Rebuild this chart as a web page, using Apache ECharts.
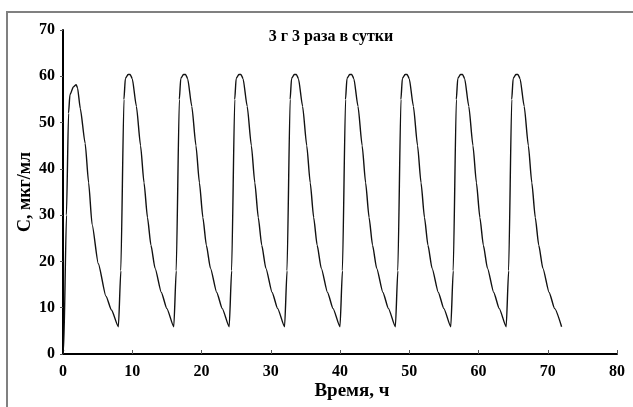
<!DOCTYPE html>
<html>
<head>
<meta charset="utf-8">
<script src="https://cdn.jsdelivr.net/npm/echarts@6/dist/echarts.min.js"></script>
<style>
  html, body { margin: 0; padding: 0; background: #fff; }
  #chart { width: 633px; height: 407px; }
</style>
</head>
<body>
<div id="chart"></div>
<script>
// время, ч
const hours = [
  0, 0.1, 0.5, 0.8, 1.0, 1.5, 1.9, 2.1, 2.5, 3.2, 3.7, 4.2, 5.1, 6.2, 7.0,
  8, 8.35, 8.8, 9.0, 9.4, 9.7, 10.0, 10.6, 11.2, 11.7, 12.2, 12.7, 13.3, 14.2, 15.0,
  16, 16.35, 16.8, 17.0, 17.4, 17.7, 18.0, 18.6, 19.2, 19.7, 20.2, 20.7, 21.3, 22.2, 23.0,
  24, 24.35, 24.8, 25.0, 25.4, 25.7, 26.0, 26.6, 27.2, 27.7, 28.2, 28.7, 29.3, 30.2, 31.0,
  32, 32.35, 32.8, 33.0, 33.4, 33.7, 34.0, 34.6, 35.2, 35.7, 36.2, 36.7, 37.3, 38.2, 39.0,
  40, 40.35, 40.8, 41.0, 41.4, 41.7, 42.0, 42.6, 43.2, 43.7, 44.2, 44.7, 45.3, 46.2, 47.0,
  48, 48.35, 48.8, 49.0, 49.4, 49.7, 50.0, 50.6, 51.2, 51.7, 52.2, 52.7, 53.3, 54.2, 55.0,
  56, 56.35, 56.8, 57.0, 57.4, 57.7, 58.0, 58.6, 59.2, 59.7, 60.2, 60.7, 61.3, 62.2, 63.0,
  64, 64.35, 64.8, 65.0, 65.4, 65.7, 66.0, 66.6, 67.2, 67.7, 68.2, 68.7, 69.3, 70.2, 71.0,
  72
]
// C, мкг/мл
const conc = [
  0, 1, 30, 52, 56, 57.7, 58.2, 57.5, 53, 45.5, 37, 28, 19.5, 12.5, 9.5,
  5.9, 18, 55, 59.5, 60.4, 60.4, 59.5, 53.5, 45, 37, 29.5, 23.5, 18.5, 13.3, 9.8,
  5.9, 18, 55, 59.5, 60.4, 60.4, 59.5, 53.5, 45, 37, 29.5, 23.5, 18.5, 13.3, 9.8,
  5.9, 18, 55, 59.5, 60.4, 60.4, 59.5, 53.5, 45, 37, 29.5, 23.5, 18.5, 13.3, 9.8,
  5.9, 18, 55, 59.5, 60.4, 60.4, 59.5, 53.5, 45, 37, 29.5, 23.5, 18.5, 13.3, 9.8,
  5.9, 18, 55, 59.5, 60.4, 60.4, 59.5, 53.5, 45, 37, 29.5, 23.5, 18.5, 13.3, 9.8,
  5.9, 18, 55, 59.5, 60.4, 60.4, 59.5, 53.5, 45, 37, 29.5, 23.5, 18.5, 13.3, 9.8,
  5.9, 18, 55, 59.5, 60.4, 60.4, 59.5, 53.5, 45, 37, 29.5, 23.5, 18.5, 13.3, 9.8,
  5.9, 18, 55, 59.5, 60.4, 60.4, 59.5, 53.5, 45, 37, 29.5, 23.5, 18.5, 13.3, 9.8,
  5.9
]

const chartTitle = '3 г 3 раза в сутки'
const xName = 'Время, ч'
const yName = 'C, мкг/мл'

const font = 'Liberation Serif'
const chart = echarts.init(document.getElementById('chart'))

const seriesData = hours.map((h, i) => [h, conc[i]])

chart.setOption({
  animation: false,
  backgroundColor: '#fff',
  graphic: [
    {
      type: 'rect',
      shape: { x: 7, y: 12, width: 800, height: 800 },
      style: { fill: 'none', stroke: '#808080', lineWidth: 2 },
      silent: true
    },
    {
      type: 'text',
      style: {
        x: 352,
        y: 391,
        text: xName,
        align: 'center',
        verticalAlign: 'middle',
        font: 'bold 19px "' + font + '"',
        fill: '#000'
      },
      silent: true
    }
  ],
  title: {
    text: chartTitle,
    left: 326,
    top: 24,
    textAlign: 'center',
    textStyle: { fontFamily: font, fontWeight: 'bold', fontSize: 16, color: '#000' }
  },
  grid: {
    left: 63,
    right: 16,
    top: 30,
    bottom: 53
  },
  xAxis: {
    type: 'value',
    min: 0,
    max: 80,
    interval: 10,
    axisLine: { show: true, lineStyle: { color: '#000', width: 2 } },
    axisTick: { show: true, inside: true, length: 4, lineStyle: { color: '#555' } },
    splitLine: { show: false },
    axisLabel: { color: '#000', fontFamily: font, fontWeight: 'bold', fontSize: 16, margin: 10 }
  },
  yAxis: {
    type: 'value',
    min: 0,
    max: 70,
    interval: 10,
    name: yName,
    nameLocation: 'middle',
    nameGap: 29,
    nameMoveOverlap: false,
    nameTextStyle: { color: '#000', fontFamily: font, fontWeight: 'bold', fontSize: 18 },
    axisLine: { show: true, lineStyle: { color: '#000', width: 2 } },
    axisTick: { show: true, length: 3, lineStyle: { color: '#555' } },
    splitLine: { show: false },
    axisLabel: { color: '#000', fontFamily: font, fontWeight: 'bold', fontSize: 16, margin: 8 }
  },
  series: [
    {
      type: 'line',
      data: seriesData,
      showSymbol: false,
      smooth: 0.2,
      smoothMonotone: 'x',
      lineStyle: { color: '#111', width: 1.4 }
    }
  ]
})
</script>
</body>
</html>
